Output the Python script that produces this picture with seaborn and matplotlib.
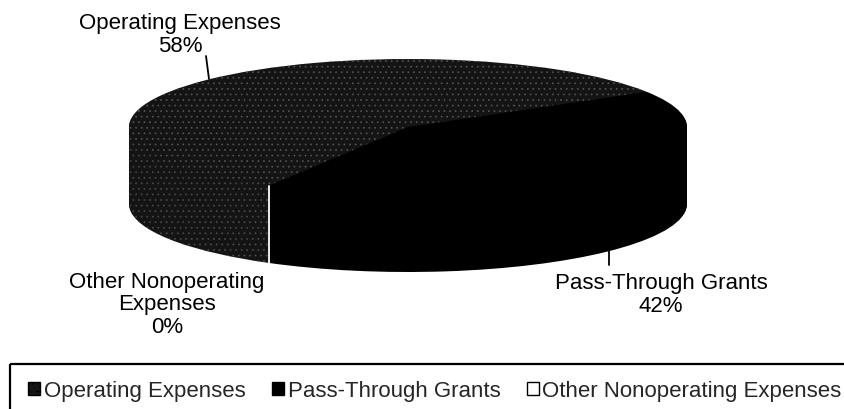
import matplotlib
matplotlib.use("Agg")
import matplotlib.pyplot as plt
from matplotlib.patches import Patch, Rectangle
import numpy as np
import seaborn as sns

# data
categories = ["Operating Expenses", "Pass-Through Grants", "Other Nonoperating Expenses"]
label_names = ["Operating Expenses", "Pass-Through Grants", "Other Nonoperating\nExpenses"]
shares = [58, 42, 0]
colors = ["#141414", "#000000", "#ffffff"]

# geometry of the 3D pie, in pixels
W, H = 844, 410
CX, CY, RX, RY, DEPTH = 408, 128, 279, 68, 77
START = 240

sns.set_theme(style="white")
plt.rcParams["font.family"] = ["Liberation Sans", "DejaVu Sans"]
plt.rcParams["hatch.linewidth"] = 0.5


def speckle(wedge):
    # dithered dark grey of the scanned original
    wedge.set_edgecolor("#555555")
    wedge.set_linewidth(0)
    wedge.set_hatch("...")


fig = plt.figure(figsize=(W / 100, H / 100), dpi=100)
pax = fig.add_axes([0, 0, 1, 1])

depth = DEPTH / RY
n_layers = DEPTH
for k in range(n_layers, 0, -1):
    side, _ = pax.pie(shares, radius=1, center=(0, -depth * k / n_layers), startangle=START,
                      counterclock=False, colors=colors, wedgeprops=dict(linewidth=0))
    speckle(side[0])
top, _ = pax.pie(shares, radius=1, center=(0, 0), startangle=START, counterclock=False,
                 colors=colors, wedgeprops=dict(linewidth=0))
speckle(top[0])

# white edge of the empty slice on the front wall
cum = np.cumsum(shares) / np.sum(shares)
theta = np.deg2rad(START - 360 * cum[1])
pax.plot([np.cos(theta)] * 2, [np.sin(theta), np.sin(theta) - depth], color="white", lw=1.3)

pax.set_aspect("auto")
pax.set_xlim(-CX / RX, (W - CX) / RX)
pax.set_ylim((CY - H) / RY, CY / RY)
pax.axis("off")

# overlay axes in pixel coordinates for labels
ax = fig.add_axes([0, 0, 1, 1], zorder=2)
ax.set_xlim(0, W)
ax.set_ylim(H, 0)
ax.axis("off")
ax.patch.set_alpha(0)

label_pos = [(180, 35), (661, 295), (167, 305)]
leaders = [((209, 80), (206, 57)), ((609, 252), (609, 266)), None]
for name, val, (lx, ly), ld in zip(label_names, shares, label_pos, leaders):
    ax.text(lx, ly, f"{name}\n{val}%", ha="center", va="center", fontsize=16,
            linespacing=1.12, color="black")
    if ld is not None:
        ax.plot([ld[0][0], ld[1][0]], [ld[0][1], ld[1][1]], color="black", lw=1.3)

# legend
ax.add_patch(Rectangle((10, 365), 860, 60, fill=False, ec="black", lw=1.6, clip_on=False))
handles = [Patch(facecolor=c, edgecolor="black", linewidth=1.0) for c in colors]
handles[0].set_hatch("..")
fig.legend(handles, categories, loc="center left", bbox_to_anchor=(28 / W, 1 - 392 / H),
           ncol=3, frameon=False, fontsize=16, handlelength=0.55, handleheight=0.55,
           handletextpad=0.15, columnspacing=1.2, borderpad=0, borderaxespad=0)

fig.savefig("out.png", dpi=100)
